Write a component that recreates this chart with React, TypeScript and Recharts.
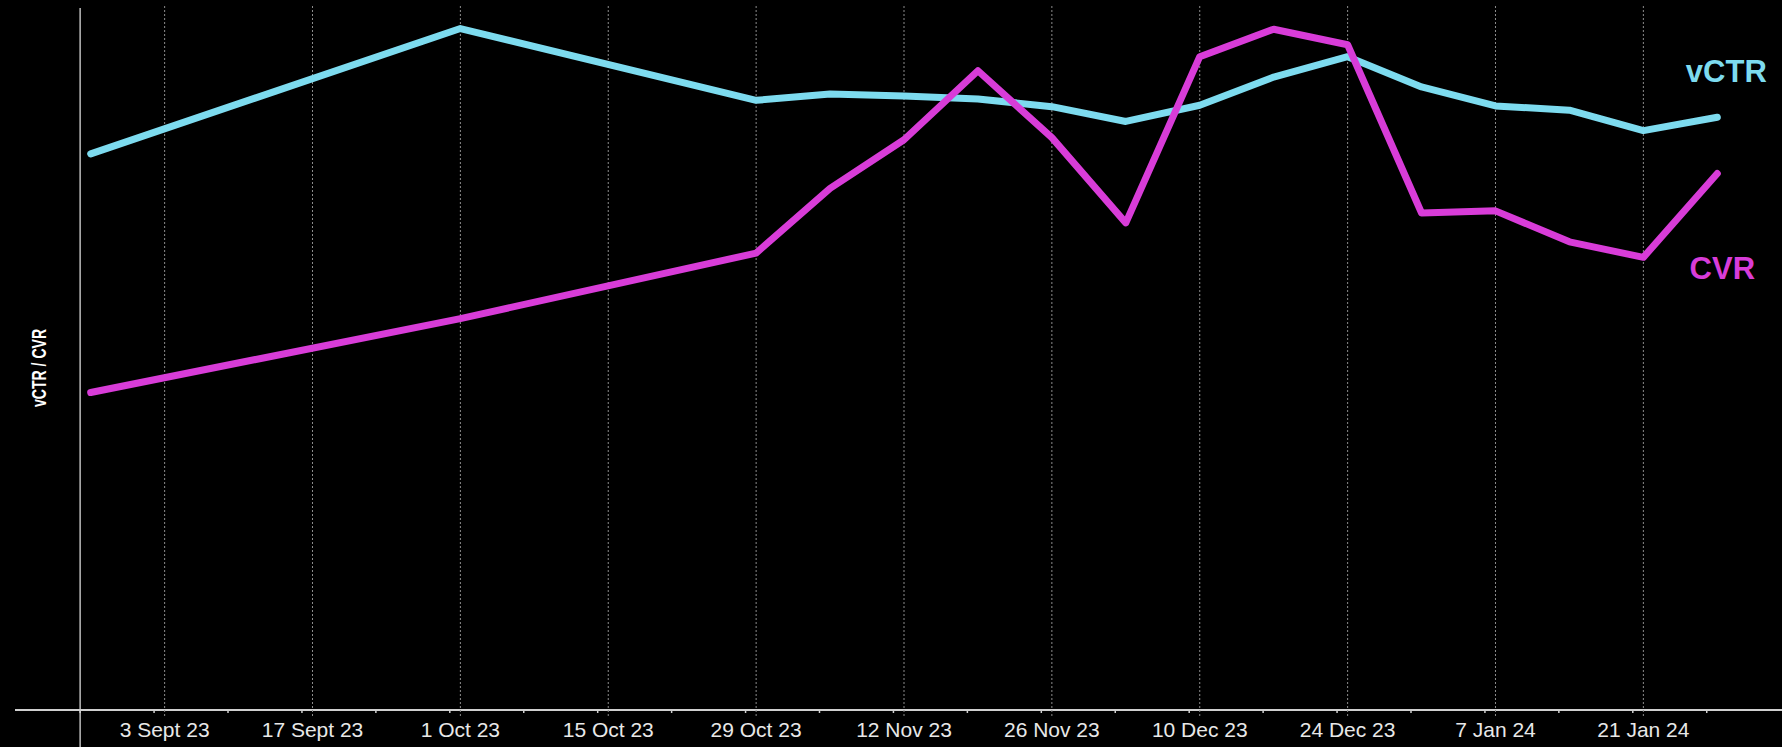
import React from 'react';
import { LineChart, Line, XAxis, YAxis, CartesianGrid, ReferenceLine, LabelList } from 'recharts';

// ---- data ----
const DATES = [
  '2023-08-27', '2023-10-01', '2023-10-29', '2023-11-05', '2023-11-12', '2023-11-19',
  '2023-11-26', '2023-12-03', '2023-12-10', '2023-12-17', '2023-12-24', '2023-12-31',
  '2024-01-07', '2024-01-14', '2024-01-21', '2024-01-28',
];
const VCTR = [79.0, 96.8, 86.6, 87.5, 87.2, 86.8, 85.7, 83.6, 85.9, 89.9, 92.8, 88.5, 85.8, 85.2, 82.3, 84.2];
const CVR = [45.1, 55.6, 64.9, 74.1, 81.0, 90.8, 81.3, 69.2, 92.8, 96.7, 94.5, 70.6, 70.9, 66.5, 64.3, 76.2];

const LABEL_DATES = [
  '2023-09-03', '2023-09-17', '2023-10-01', '2023-10-15', '2023-10-29', '2023-11-12',
  '2023-11-26', '2023-12-10', '2023-12-24', '2024-01-07', '2024-01-21',
];
const TICK_LABELS = [
  '3 Sept 23', '17 Sept 23', '1 Oct 23', '15 Oct 23', '29 Oct 23', '12 Nov 23',
  '26 Nov 23', '10 Dec 23', '24 Dec 23', '7 Jan 24', '21 Jan 24',
];
const MINOR_TICK_DATES = [
  '2023-08-26', '2023-09-02', '2023-09-09', '2023-09-16', '2023-09-23', '2023-09-30',
  '2023-10-07', '2023-10-14', '2023-10-21', '2023-10-28', '2023-11-04', '2023-11-11',
  '2023-11-18', '2023-11-25', '2023-12-02', '2023-12-09', '2023-12-16', '2023-12-23',
  '2023-12-30', '2024-01-06', '2024-01-13', '2024-01-20', '2024-01-27',
];
const Y_AXIS_DATE = '2023-08-26';
const SERIES_NAMES = ['vCTR', 'CVR'];
const Y_TITLE = 'vCTR / CVR';

// ---- helpers ----
const toTime = (s: string) => Date.UTC(+s.slice(0, 4), +s.slice(5, 7) - 1, +s.slice(8, 10));

const data = DATES.map((d, i) => ({ t: toTime(d), vctr: VCTR[i], cvr: CVR[i] }));
const GRID_TIMES = LABEL_DATES.map(toTime);
const MINOR_TIMES = MINOR_TICK_DATES.map(toTime);
const ALL_TICKS = [...GRID_TIMES, ...MINOR_TIMES].sort((a, b) => a - b);
const X_DOMAIN: [number, number] = [Date.UTC(2023, 7, 19, 20), Date.UTC(2024, 1, 3, 3)];

const CYAN = '#7ddbef';
const MAGENTA = '#d83cd8';
const GRID = '#8c8c8c';
const AXIS = '#cfcfcf';
const FONT = '"Liberation Sans", Arial, Helvetica, sans-serif';

function XTick(props: any) {
  const { x, y, payload } = props;
  const idx = GRID_TIMES.indexOf(payload.value);
  if (idx >= 0) {
    return (
      <g>
        <line x1={x} y1={y} x2={x} y2={y + 6} stroke={GRID} strokeDasharray="2 2" />
        <text
          x={x}
          y={y + 27}
          textAnchor="middle"
          fill="#e8e8e8"
          fontSize={21}
          fontFamily={FONT}
        >
          {TICK_LABELS[idx]}
        </text>
      </g>
    );
  }
  return <line x1={x} y1={y - 1} x2={x} y2={y + 3} stroke={AXIS} strokeWidth={1.5} />;
}

const endLabel = (name: string, color: string, dx: number, dy: number) => (p: any) => {
  if (p.index !== data.length - 1) return <g />;
  return (
    <text
      x={p.x + dx}
      y={p.y + dy}
      textAnchor="middle"
      fill={color}
      fontSize={31}
      fontWeight="bold"
      fontFamily={FONT}
    >
      {name}
    </text>
  );
};

export default function App() {
  return (
    <div style={{ position: 'absolute', left: 0, top: 0, width: 1782, height: 747, background: '#000' }}>
      <LineChart
        width={1782}
        height={747}
        data={data}
        margin={{ top: 6, right: 0, bottom: 0, left: 15 }}
        style={{ background: '#000' }}
      >
        <CartesianGrid
          horizontal={false}
          vertical
          verticalValues={GRID_TIMES}
          stroke={GRID}
          strokeDasharray="2 2"
        />
        <XAxis
          dataKey="t"
          type="number"
          domain={X_DOMAIN}
          allowDataOverflow
          ticks={ALL_TICKS}
          interval={0}
          tick={<XTick />}
          tickLine={false}
          tickSize={0}
          tickMargin={0}
          axisLine={{ stroke: AXIS, strokeWidth: 2 }}
          height={37}
        />
        <YAxis hide domain={[0, 100]} allowDataOverflow />
        <ReferenceLine
          segment={[
            { x: toTime(Y_AXIS_DATE), y: -6 },
            { x: toTime(Y_AXIS_DATE), y: 99.7 },
          ]}
          ifOverflow="visible"
          stroke="#bdbdbd"
          strokeWidth={1.5}
        />
        <Line
          type="linear"
          dataKey="vctr"
          stroke={CYAN}
          strokeWidth={7}
          strokeLinecap="round"
          strokeLinejoin="round"
          dot={false}
          activeDot={false}
          isAnimationActive={false}
        >
          <LabelList dataKey="vctr" content={endLabel(SERIES_NAMES[0], CYAN, 9, -35)} />
        </Line>
        <Line
          type="linear"
          dataKey="cvr"
          stroke={MAGENTA}
          strokeWidth={7}
          strokeLinecap="round"
          strokeLinejoin="round"
          dot={false}
          activeDot={false}
          isAnimationActive={false}
        >
          <LabelList dataKey="cvr" content={endLabel(SERIES_NAMES[1], MAGENTA, 5, 105)} />
        </Line>
      </LineChart>
      <svg
        width={1782}
        height={747}
        style={{ position: 'absolute', left: 0, top: 0, pointerEvents: 'none' }}
      >
        <text
          transform="translate(45.5,368) rotate(-90) scale(0.67,1)"
          textAnchor="middle"
          fill="#ffffff"
          fontSize={21}
          fontWeight="bold"
          fontFamily={FONT}
        >
          {Y_TITLE}
        </text>
      </svg>
    </div>
  );
}
